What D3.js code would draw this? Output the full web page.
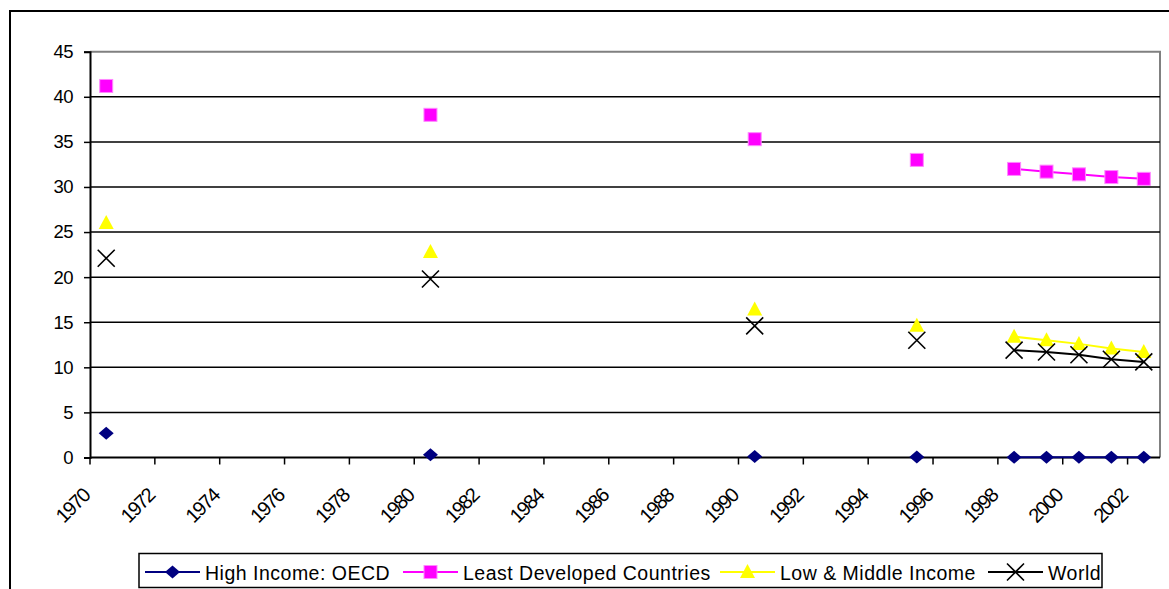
<!DOCTYPE html>
<html>
<head>
<meta charset="utf-8">
<script src="https://cdn.jsdelivr.net/npm/d3@7/dist/d3.min.js"></script>
<style>
  html, body { margin: 0; padding: 0; background: #fff; }
  svg { display: block; font-family: Arial, "Liberation Sans", sans-serif; }
</style>
</head>
<body>
<svg id="chart" width="1169" height="589"></svg>
<script>
// Category axis: one slot per year
const years = [1970, 1971, 1972, 1973, 1974, 1975, 1976, 1977, 1978, 1979,
               1980, 1981, 1982, 1983, 1984, 1985, 1986, 1987, 1988, 1989,
               1990, 1991, 1992, 1993, 1994, 1995, 1996, 1997, 1998, 1999,
               2000, 2001, 2002];
const yearLabels = ["1970", "1972", "1974", "1976", "1978", "1980", "1982", "1984",
                    "1986", "1988", "1990", "1992", "1994", "1996", "1998", "2000", "2002"];
const yTicks = [0, 5, 10, 15, 20, 25, 30, 35, 40, 45];

// Years that carry observations
const dataYears = [1970, 1980, 1990, 1995, 1998, 1999, 2000, 2001, 2002];
const highIncomeOECD = [2.7, 0.3, 0.1, 0.05, 0.02, 0.02, 0.02, 0.02, 0.02];
const leastDeveloped = [41.2, 38.0, 35.3, 33.0, 32.0, 31.7, 31.4, 31.1, 30.9];
const lowMiddle = [26.0, 22.8, 16.4, 14.6, 13.4, 13.0, 12.6, 12.1, 11.7];
const world = [22.1, 19.8, 14.6, 13.0, 11.9, 11.7, 11.4, 10.9, 10.6];

const seriesNames = ["High Income: OECD", "Least Developed Countries", "Low & Middle Income", "World"];
const seriesColors = ["#000080", "#FF00FF", "#FFFF00", "#000000"];
const seriesShapes = ["diamond", "square", "triangle", "cross"];
const seriesValues = [highIncomeOECD, leastDeveloped, lowMiddle, world];

const svg = d3.select("#chart");
const plotL = 90, plotR = 1160, plotT = 51.7, plotB = 457.5;

const x = d3.scaleBand().domain(years).range([plotL, plotR]).paddingInner(0).paddingOuter(0);
const y = d3.scaleLinear().domain([0, 45]).range([plotB, plotT]);

// Chart frame
svg.append("rect").attr("x", 10).attr("y", 11).attr("width", 1200).attr("height", 600)
  .attr("fill", "none").attr("stroke", "#000").attr("stroke-width", 2);

// Plot area border (grey top and right)
svg.append("path")
  .attr("d", `M${plotL},${plotT}H${plotR}V${plotB}`)
  .attr("fill", "none").attr("stroke", "#808080").attr("stroke-width", 2);

// Horizontal gridlines
svg.append("g").selectAll("line").data(yTicks.filter(v => v > 0 && v < 45)).join("line")
  .attr("x1", plotL).attr("x2", plotR)
  .attr("y1", d => y(d)).attr("y2", d => y(d))
  .attr("stroke", "#000").attr("stroke-width", 1.5);

// Y axis
const yAxis = d3.axisLeft(y).tickValues(yTicks).tickSize(6).tickPadding(11);
const gy = svg.append("g").attr("transform", `translate(${plotL},0)`).call(yAxis);
gy.select(".domain").attr("stroke", "#000").attr("stroke-width", 2);
gy.selectAll(".tick line").attr("stroke", "#000").attr("stroke-width", 1.5);
gy.selectAll(".tick text").attr("font-size", 18.5).attr("fill", "#000")
  .attr("font-family", "Arial, 'Liberation Sans', sans-serif").attr("letter-spacing", -0.5);

// X axis: ticks on category boundaries every two years
const tickYears = years.filter((d, i) => i % 2 === 0);
const gx = svg.append("g");
gx.append("line").attr("x1", plotL).attr("x2", plotR).attr("y1", plotB).attr("y2", plotB)
  .attr("stroke", "#000").attr("stroke-width", 2);
gx.selectAll("line.tk").data(tickYears).join("line").attr("class", "tk")
  .attr("x1", d => x(d)).attr("x2", d => x(d))
  .attr("y1", plotB).attr("y2", plotB + 7)
  .attr("stroke", "#000").attr("stroke-width", 1.5);
gx.selectAll("text").data(tickYears).join("text")
  .attr("transform", d => `translate(${x(d) + 1},${497}) rotate(-45)`)
  .attr("text-anchor", "end")
  .attr("font-size", 20).attr("letter-spacing", -1.6)
  .text((d, i) => yearLabels[i]);

// Marker shapes
function marker(g, shape, color) {
  if (shape === "diamond") {
    g.append("path").attr("d", "M0,-6.5L7.5,0L0,6.5L-7.5,0Z").attr("fill", color);
  } else if (shape === "square") {
    g.append("rect").attr("x", -6.5).attr("y", -6.5).attr("width", 13).attr("height", 13)
      .attr("fill", color).attr("stroke", "#ff88ff").attr("stroke-width", 1);
  } else if (shape === "triangle") {
    g.append("path").attr("d", "M0,-8L7.5,6L-7.5,6Z").attr("fill", color);
  } else {
    g.append("path").attr("d", "M-8.5,-8.5L8.5,8.5M-8.5,8.5L8.5,-8.5")
      .attr("stroke", color).attr("stroke-width", 1.6).attr("fill", "none");
  }
}

// Split observations into runs of consecutive years
function runs(vals) {
  const out = [];
  let cur = [];
  dataYears.forEach((yr, i) => {
    if (cur.length && yr !== cur[cur.length - 1].yr + 1) { out.push(cur); cur = []; }
    cur.push({ yr, v: vals[i] });
  });
  if (cur.length) out.push(cur);
  return out.filter(r => r.length > 1);
}

const line = d3.line().x(d => x(d.yr) + x.bandwidth() / 2).y(d => y(d.v));

seriesValues.forEach((vals, si) => {
  const g = svg.append("g");
  runs(vals).forEach(r => {
    g.append("path").attr("d", line(r)).attr("fill", "none")
      .attr("stroke", seriesColors[si]).attr("stroke-width", 2);
  });
  dataYears.forEach((yr, i) => {
    const m = g.append("g")
      .attr("transform", `translate(${x(yr) + x.bandwidth() / 2},${y(vals[i])})`);
    marker(m, seriesShapes[si], seriesColors[si]);
  });
});

// Legend
const legend = svg.append("g");
legend.append("rect").attr("x", 139).attr("y", 553.5).attr("width", 963).attr("height", 34)
  .attr("fill", "#fff").attr("stroke", "#000").attr("stroke-width", 1.5);
const legendX = [145, 403, 720, 988];
seriesNames.forEach((name, si) => {
  const lg = legend.append("g").attr("transform", `translate(${legendX[si]},572)`);
  lg.append("line").attr("x1", 0).attr("x2", 55).attr("y1", 0).attr("y2", 0)
    .attr("stroke", seriesColors[si]).attr("stroke-width", 2);
  const m = lg.append("g").attr("transform", "translate(27.5,0)");
  marker(m, seriesShapes[si], seriesColors[si]);
  lg.append("text").attr("x", 60).attr("y", 7.5).attr("font-size", 19.5)
    .attr("letter-spacing", 0.5).attr("fill", "#000")
    .text(name);
});
</script>
</body>
</html>
